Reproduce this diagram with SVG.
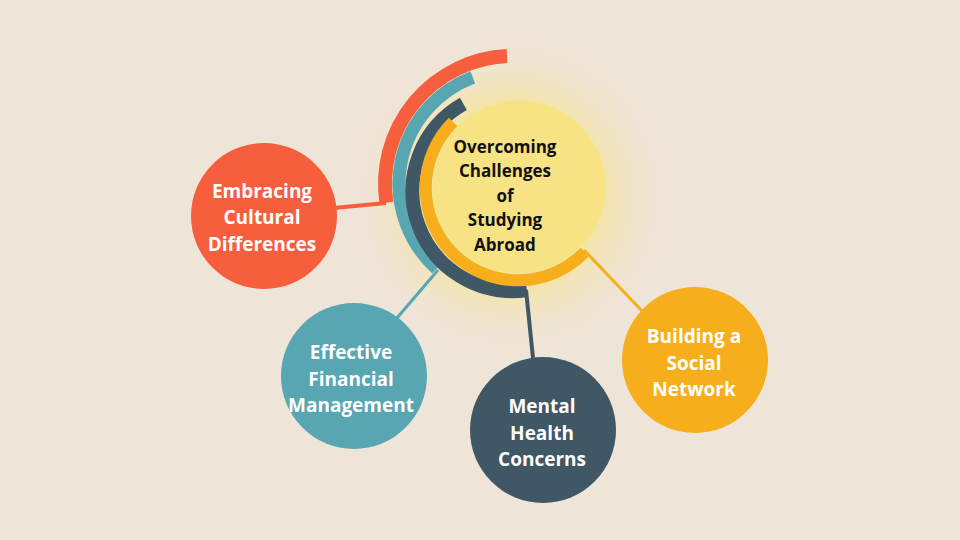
<svg xmlns="http://www.w3.org/2000/svg" width="960" height="540" viewBox="0 0 960 540">
<defs>
<radialGradient id="glow" cx="510" cy="195" r="165" gradientUnits="userSpaceOnUse">
<stop offset="0" stop-color="#f7e27a"/>
<stop offset="0.45" stop-color="#f6e48e"/>
<stop offset="1" stop-color="#efe4d8" stop-opacity="0"/>
</radialGradient>
<style>
.arc{fill:none;stroke-linecap:butt}
.lbl{font-family:"Open Sans","Liberation Sans",sans-serif;font-weight:700;font-size:19px;fill:#fff;text-anchor:middle}
.ttl{font-family:"Open Sans","Liberation Sans",sans-serif;font-weight:700;font-size:17px;fill:#111;text-anchor:middle}
</style>
</defs>
<rect width="960" height="540" fill="#efe4d8"/>
<circle cx="510" cy="195" r="165" fill="url(#glow)"/>
<circle cx="519.5" cy="186.5" r="86" fill="#f7e384"/>
<g id="connectors">
<line x1="334" y1="208" x2="386" y2="203" stroke="#f65e3d" stroke-width="4"/>
<line x1="397" y1="318" x2="438" y2="270" stroke="#57a6b2" stroke-width="3"/>
<line x1="533" y1="358" x2="526" y2="290" stroke="#405766" stroke-width="4"/>
<line x1="642" y1="311" x2="584" y2="250" stroke="#f6ae1d" stroke-width="3"/>
</g>
<g id="arcs">
<path class="arc" stroke="#f65e3d" stroke-width="14" d="M386.4,202.7 A128,128 0 0 1 507,56.1"/>
<path class="arc" stroke="#57a6b2" stroke-width="13" d="M436.6,268.6 A114,114 0 0 1 472.8,77.3"/>
<path class="arc" stroke="#405766" stroke-width="14" d="M526.9,290 A100,100 0 0 1 463.4,103.9"/>
<path class="arc" stroke="#f6ae1d" stroke-width="12" d="M584.9,251.9 A92.5,92.5 0 1 1 453.1,122.1"/>
</g>
<g id="center">
<text class="ttl" x="505" y="153">Overcoming</text>
<text class="ttl" x="505" y="177">Challenges</text>
<text class="ttl" x="505" y="202">of</text>
<text class="ttl" x="505" y="226">Studying</text>
<text class="ttl" x="505" y="251">Abroad</text>
</g>
<g id="n1">
<circle cx="264" cy="216" r="73" fill="#f65e3d"/>
<text class="lbl" x="262" y="198">Embracing</text>
<text class="lbl" x="262" y="224">Cultural</text>
<text class="lbl" x="262" y="251">Differences</text>
</g>
<g id="n2">
<circle cx="354" cy="376" r="73" fill="#57a6b2"/>
<text class="lbl" x="351" y="359">Effective</text>
<text class="lbl" x="351" y="386">Financial</text>
<text class="lbl" x="351" y="412">Management</text>
</g>
<g id="n3">
<circle cx="543" cy="430" r="73" fill="#405766"/>
<text class="lbl" x="542" y="413">Mental</text>
<text class="lbl" x="542" y="440">Health</text>
<text class="lbl" x="542" y="466">Concerns</text>
</g>
<g id="n4">
<circle cx="695" cy="360" r="73" fill="#f6ae1d"/>
<text class="lbl" x="694" y="343">Building a</text>
<text class="lbl" x="694" y="370">Social</text>
<text class="lbl" x="694" y="396">Network</text>
</g>
</svg>
